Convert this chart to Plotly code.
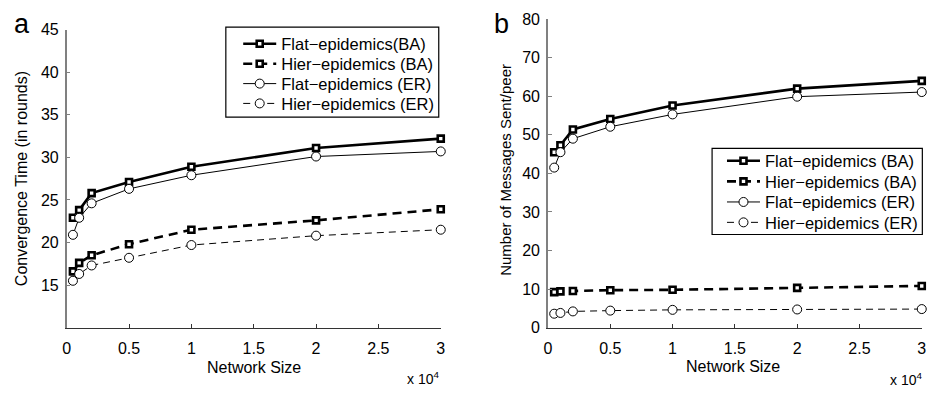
import plotly.graph_objects as go

# ---- data ----
network_size = [500, 1000, 2000, 5000, 10000, 20000, 30000]
x_tickvals = [0, 5000, 10000, 15000, 20000, 25000, 30000]
x_ticktext = ["0", "0.5", "1", "1.5", "2", "2.5", "3"]

# panel a: convergence time (rounds)
conv_flat_ba = [22.9, 23.8, 25.8, 27.1, 28.9, 31.1, 32.2]
conv_hier_ba = [16.6, 17.6, 18.5, 19.8, 21.5, 22.6, 23.9]
conv_flat_er = [20.9, 22.9, 24.6, 26.3, 27.9, 30.1, 30.7]
conv_hier_er = [15.5, 16.3, 17.3, 18.2, 19.7, 20.8, 21.5]
conv_ticks = [15, 20, 25, 30, 35, 40, 45]

# panel b: messages sent per peer
msg_flat_ba = [45.5, 47.3, 51.4, 54.1, 57.6, 62.0, 64.0]
msg_hier_ba = [9.2, 9.4, 9.5, 9.7, 9.8, 10.3, 10.8]
msg_flat_er = [41.5, 45.5, 49.0, 52.1, 55.3, 59.9, 61.1]
msg_hier_er = [3.6, 3.8, 4.2, 4.4, 4.6, 4.7, 4.8]
msg_ticks = [0, 10, 20, 30, 40, 50, 60, 70, 80]

names_a = ["Flat\u2212epidemics(BA)", "Hier\u2212epidemics (BA)",
           "Flat\u2212epidemics (ER)", "Hier\u2212epidemics (ER)"]
names_b = ["Flat\u2212epidemics (BA)", "Hier\u2212epidemics (BA)",
           "Flat\u2212epidemics (ER)", "Hier\u2212epidemics (ER)"]

FONT = "Liberation Sans, Arial, Helvetica, sans-serif"
W, H = 931, 394

styles = [
    dict(line=dict(color="black", width=2.6, dash="solid"),
         marker=dict(symbol="square", size=6, color="white", line=dict(color="black", width=2.6))),
    dict(line=dict(color="black", width=2.6, dash="9px,6px"),
         marker=dict(symbol="square", size=6, color="white", line=dict(color="black", width=2.6))),
    dict(line=dict(color="black", width=1, dash="solid"),
         marker=dict(symbol="circle", size=9, color="white", line=dict(color="black", width=1))),
    dict(line=dict(color="black", width=1, dash="7px,5px"),
         marker=dict(symbol="circle", size=9, color="white", line=dict(color="black", width=1))),
]

# legend layout (pixel positions of legend rows / boxes)
leg_a_rows = [37.7, 58.5, 79.3, 100.0]
leg_b_rows = [160.0, 181.5, 203.0, 224.3]
leg_a_x, leg_b_x = 236.5, 725.0
box_a = (224, 20, 439, 114)
box_b = (715, 146.7, 927.3, 236.7)

fig = go.Figure()
legend_layouts = {}
k = 0
for panel, (series, names, rows, lx, xa, ya) in enumerate([
        ([conv_flat_ba, conv_hier_ba, conv_flat_er, conv_hier_er], names_a, leg_a_rows, leg_a_x, "x", "y"),
        ([msg_flat_ba, msg_hier_ba, msg_flat_er, msg_hier_er], names_b, leg_b_rows, leg_b_x, "x2", "y2")]):
    for ys, nm, st, ry in zip(series, names, styles, rows):
        k += 1
        lname = "legend" if k == 1 else f"legend{k}"
        fig.add_trace(go.Scatter(x=network_size, y=ys, name=nm, mode="lines+markers",
                                 xaxis=xa, yaxis=ya, legend=lname, cliponaxis=False, **st))
        legend_layouts[lname] = dict(
            x=lx / W, y=1 - ry / H, xanchor="left", yanchor="middle",
            bgcolor="rgba(0,0,0,0)", borderwidth=0, itemwidth=33,
            font=dict(size=16.5, color="black", family=FONT))

xcommon = dict(range=[0, 30000], tickvals=x_tickvals, ticktext=x_ticktext,
               showgrid=False, zeroline=False, showline=True, linecolor="#333333", linewidth=1,
               ticks="inside", ticklen=4, tickcolor="#333333",
               tickfont=dict(size=16, color="black", family=FONT), ticklabelstandoff=6)
ycommon = dict(showgrid=False, zeroline=False, showline=True, linecolor="#808080", linewidth=1.5,
               ticks="inside", ticklen=4, tickcolor="#808080",
               tickfont=dict(size=16, color="black", family=FONT), ticklabelstandoff=3)

fig.update_layout(
    width=W, height=H,
    margin=dict(l=0, r=0, t=0, b=0),
    paper_bgcolor="white", plot_bgcolor="white",
    font=dict(family=FONT, color="black"),
    xaxis=dict(domain=[0.068, 0.4737], anchor="y", **xcommon),
    yaxis=dict(domain=[0.1523, 0.9424], anchor="x", range=[10, 45], tickvals=conv_ticks, **ycommon),
    xaxis2=dict(domain=[0.590, 0.9954], anchor="y2", **xcommon),
    yaxis2=dict(domain=[0.1523, 0.9703], anchor="x2", range=[0, 80], tickvals=msg_ticks, **ycommon),
    showlegend=True,
    **legend_layouts,
)

for (x0, y0, x1, y1) in [box_a, box_b]:
    fig.add_shape(type="rect", xref="paper", yref="paper",
                  x0=x0 / W, x1=x1 / W, y0=1 - y1 / H, y1=1 - y0 / H,
                  line=dict(color="black", width=1.2), fillcolor="white", layer="above")

ann = [
    dict(text="a", x=18 / W, y=1 - 17 / H, font=dict(size=27)),
    dict(text="b", x=502 / W, y=1 - 17 / H, font=dict(size=27)),
    dict(text="Network Size", x=252 / W, y=1 - 376 / H, font=dict(size=16)),
    dict(text="Network Size", x=736 / W, y=1 - 375 / H, font=dict(size=16)),
    dict(text="x 10<sup>4</sup>", x=423 / W, y=1 - 387 / H, font=dict(size=14)),
    dict(text="x 10<sup>4</sup>", x=911 / W, y=1 - 388 / H, font=dict(size=14)),
    dict(text="Convergence Time (in rounds)", x=17 / W, y=1 - 178 / H, textangle=-90, font=dict(size=16)),
    dict(text="Number of Messages Sent/peer", x=507 / W, y=1 - 169 / H, textangle=-90, font=dict(size=15)),
]
for a in ann:
    a.update(xref="paper", yref="paper", showarrow=False, xanchor="center", yanchor="middle")
    a["font"].update(family=FONT, color="black")
    fig.add_annotation(**a)

fig.write_html("out.html")
